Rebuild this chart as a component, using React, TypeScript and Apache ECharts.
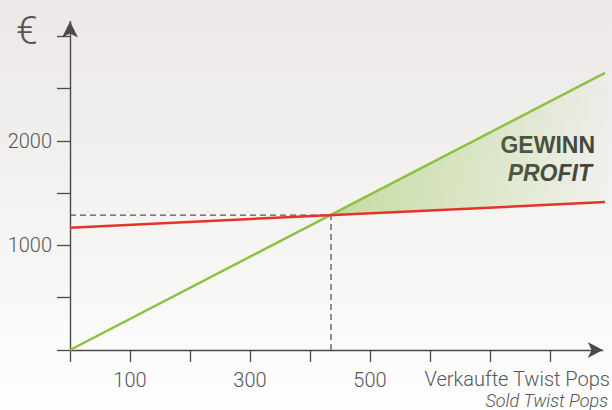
import React, { useEffect, useRef } from "react";
import * as echarts from "echarts";

// Data
const revenue: [number, number][] = [[0, 0], [895, 2660]];
const costs: [number, number][] = [[0, 1170], [895, 1415]];
const breakEven: [number, number] = [435, 1290];
const xTicks = [0, 100, 200, 300, 400, 500, 600, 700, 800];
const xLabels = [100, 300, 500];
const yTicks = [0, 500, 1000, 1500, 2000, 2500, 3000];
const yLabels = [1000, 2000];

const FONT = "Roboto, 'Liberation Sans', sans-serif";
const BOLD_FONT = "'Liberation Sans', Arial, sans-serif";

export default function App() {
  const ref = useRef<HTMLDivElement>(null);
  useEffect(() => {
    if (!ref.current) return;
    const chart = echarts.init(ref.current, null, { renderer: "svg" });
    const endX = revenue[1][0];
    const profitRegion = [[breakEven[0], breakEven[1], endX, revenue[1][1], costs[1][1]]];
    const guide: [number, number][] = [
      [0, breakEven[1]],
      [breakEven[0], breakEven[1]],
      [breakEven[0], 0],
    ];
    const axisColor = "#4a4a4a";
    const labelStyle = {
      fontSize: 20,
      fontFamily: FONT,
      fontWeight: 300,
      color: "#555",
      formatter: (v: number) => String(v),
    };
    chart.setOption({
      animation: false,
      grid: {
        left: 70,
        right: 9.2,
        top: 21.6,
        bottom: 60,
        containLabel: false,
        outerBoundsMode: "none",
      },
      xAxis: {
        type: "value",
        min: 0,
        max: 888,
        splitLine: { show: false },
        axisLine: {
          show: true,
          symbol: ["none", "arrow"],
          symbolSize: [12, 15],
          lineStyle: { color: axisColor, width: 1.4 },
        },
        axisTick: {
          show: true,
          customValues: xTicks,
          length: 12,
          lineStyle: { color: axisColor, width: 1.3 },
        },
        axisLabel: { ...labelStyle, customValues: xLabels, margin: 20 },
      },
      yAxis: {
        type: "value",
        min: 0,
        max: 3140,
        splitLine: { show: false },
        axisLine: {
          show: true,
          symbol: ["none", "arrow"],
          symbolSize: [12, 16],
          lineStyle: { color: axisColor, width: 1.4 },
        },
        axisTick: {
          show: true,
          customValues: yTicks,
          length: 13,
          lineStyle: { color: axisColor, width: 1.3 },
        },
        axisLabel: { ...labelStyle, customValues: yLabels, margin: 18 },
      },
      series: [
        {
          type: "custom",
          silent: true,
          data: profitRegion,
          encode: { x: [0, 2], y: [1, 3, 4] },
          renderItem: (params: any, api: any) => {
            const p0 = api.coord([api.value(0), api.value(1)]);
            const p1 = api.coord([api.value(2), api.value(3)]);
            const p2 = api.coord([api.value(2), api.value(4)]);
            return {
              type: "polygon",
              shape: { points: [p0, p1, p2] },
              style: {
                fill: new echarts.graphic.LinearGradient(0, 0, 1, 0, [
                  { offset: 0, color: "rgba(150,196,80,0.5)" },
                  { offset: 0.55, color: "rgba(150,196,80,0.25)" },
                  { offset: 1, color: "rgba(150,196,80,0.03)" },
                ]),
              },
            };
          },
        },
        {
          type: "line",
          data: guide,
          symbol: "none",
          silent: true,
          lineStyle: { color: "#555", width: 1.3, type: [6, 4] },
        },
        {
          type: "line",
          data: revenue,
          symbol: "none",
          clip: false,
          lineStyle: { color: "#8dc03c", width: 2.5 },
        },
        {
          type: "line",
          data: costs,
          symbol: "none",
          clip: false,
          lineStyle: { color: "#e5332a", width: 2.5 },
        },
      ],
      graphic: [
        {
          type: "text",
          x: 16,
          y: 31,
          style: {
            text: "€",
            fontSize: 39,
            fontFamily: FONT,
            fontWeight: 300,
            fill: "#555",
            verticalAlign: "middle",
          },
        },
        {
          type: "text",
          x: 610,
          y: 379,
          style: {
            text: "Verkaufte Twist Pops",
            fontSize: 20,
            fontFamily: FONT,
            fontWeight: 300,
            fill: "#555",
            align: "right",
            verticalAlign: "middle",
          },
        },
        {
          type: "text",
          x: 608,
          y: 400,
          style: {
            text: "Sold Twist Pops",
            fontSize: 18,
            fontFamily: FONT,
            fontWeight: 300,
            fontStyle: "italic",
            fill: "#555",
            align: "right",
            verticalAlign: "middle",
          },
        },
        {
          type: "text",
          x: 595,
          y: 145,
          style: {
            text: "GEWINN",
            fontSize: 23,
            fontFamily: BOLD_FONT,
            fontWeight: "bold",
            fill: "#3d3d3d",
            align: "right",
            verticalAlign: "middle",
          },
        },
        {
          type: "text",
          x: 592,
          y: 173,
          style: {
            text: "PROFIT",
            fontSize: 23,
            fontFamily: BOLD_FONT,
            fontWeight: "bold",
            fontStyle: "italic",
            fill: "#3d3d3d",
            align: "right",
            verticalAlign: "middle",
          },
        },
      ],
    });
    return () => chart.dispose();
  }, []);
  return (
    <div
      style={{
        position: "fixed",
        left: 0,
        top: 0,
        width: 612,
        height: 410,
        background: "linear-gradient(180deg, #ebe8e7 0%, #f5f4f3 55%, #fefefe 100%)",
      }}
    >
      <div ref={ref} style={{ width: 612, height: 410 }} />
    </div>
  );
}
